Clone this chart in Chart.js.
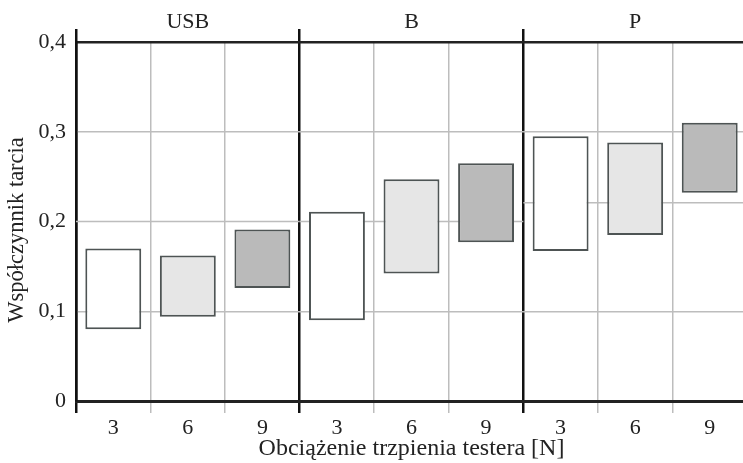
<!DOCTYPE html>
<html>
<head>
<meta charset="utf-8">
<script src="https://cdn.jsdelivr.net/npm/chart.js@4"></script>
<style>
html,body{margin:0;padding:0;background:#fff;overflow:hidden;width:743px;height:463px;}
canvas{display:block;}
</style>
</head>
<body>
<canvas id="c" width="747" height="463"></canvas>
<script>
const groups = ['USB', 'B', 'P'];
const loads = ['3', '6', '9', '3', '6', '9', '3', '6', '9'];
const lows  = [0.080, 0.094, 0.126, 0.090, 0.142, 0.177, 0.167, 0.185, 0.232];
const highs = [0.170, 0.162, 0.191, 0.211, 0.247, 0.265, 0.295, 0.288, 0.310];
const groupLine = [0.2, 0.2, 0.221];
const yTicks = [0, 0.1, 0.2, 0.3, 0.4];
const fills = ['#ffffff', '#e6e6e6', '#bababa', '#ffffff', '#e6e6e6', '#bababa', '#ffffff', '#e6e6e6', '#bababa'];

const FONT = "'Liberation Serif', 'DejaVu Serif', serif";
const GRID = '#bdbdbd';

const groupLinesPlugin = {
  id: 'groupLines',
  beforeDatasetsDraw(chart) {
    const {ctx, scales: {x, y}} = chart;
    const per = loads.length / groups.length;
    const half = (x.getPixelForValue(1) - x.getPixelForValue(0)) / 2;
    ctx.save();
    ctx.strokeStyle = GRID;
    ctx.lineWidth = 1.5;
    groupLine.forEach((v, g) => {
      const xs = x.getPixelForValue(g * per) - half;
      const xe = x.getPixelForValue(g * per + per - 1) + half;
      const py = y.getPixelForValue(v);
      ctx.beginPath();
      ctx.moveTo(xs, py);
      ctx.lineTo(xe, py);
      ctx.stroke();
    });
    ctx.restore();
  }
};

new Chart(document.getElementById('c'), {
  type: 'bar',
  data: {
    labels: loads,
    datasets: [{
      data: lows.map((l, i) => [l, highs[i]]),
      backgroundColor: fills,
      borderColor: '#4e5454',
      borderWidth: 2,
      borderSkipped: false,
      barPercentage: 0.75,
      categoryPercentage: 1
    }]
  },
  options: {
    responsive: false,
    animation: false,
    layout: {padding: 0},
    plugins: {legend: {display: false}, tooltip: {enabled: false}},
    scales: {
      x: {
        type: 'category',
        position: 'bottom',
        afterFit(s) { s.height = 62; },
        grid: {
          offset: true,
          color: c => (c.index % 3 === 0 ? '#111' : GRID),
          lineWidth: c => (c.index % 3 === 0 ? 2.5 : 1.5),
          tickLength: 12,
          drawTicks: true
        },
        border: {display: true, color: '#222', width: 3},
        ticks: {color: '#222', font: {family: FONT, size: 22}, padding: 2, maxRotation: 0, autoSkip: false},
        title: {display: true, text: 'Obciążenie trzpienia testera [N]', color: '#222', font: {family: FONT, size: 24}, padding: {top: 0, bottom: 0}}
      },
      xTop: {
        type: 'category',
        position: 'top',
        labels: groups,
        offset: true,
        afterFit(s) { s.height = 42; },
        grid: {offset: true, drawOnChartArea: false, color: '#111', lineWidth: 2.5, tickLength: 13},
        border: {display: true, color: '#222', width: 2.5},
        ticks: {color: '#222', font: {family: FONT, size: 22}, padding: -6, maxRotation: 0}
      },
      y: {
        min: 0,
        max: 0.4,
        afterFit(s) { s.width = 76; },
        afterBuildTicks(s) { s.ticks = yTicks.map(v => ({value: v})); },
        grid: {
          drawTicks: false,
          color: c => ((c.tick && (c.tick.value === 0.1 || c.tick.value === 0.3)) ? GRID : 'rgba(0,0,0,0)'),
          lineWidth: 1.5
        },
        border: {display: true, color: '#111', width: 2.5},
        ticks: {
          color: '#222',
          font: {family: FONT, size: 22},
          padding: 10,
          callback: v => (v === 0 ? '0' : v.toFixed(1).replace('.', ','))
        },
        title: {display: true, text: 'Współczynnik tarcia   ', color: '#222', font: {family: FONT, size: 22.5}, padding: {top: 4, bottom: 0}}
      }
    }
  },
  plugins: [groupLinesPlugin]
});
</script>
</body>
</html>
